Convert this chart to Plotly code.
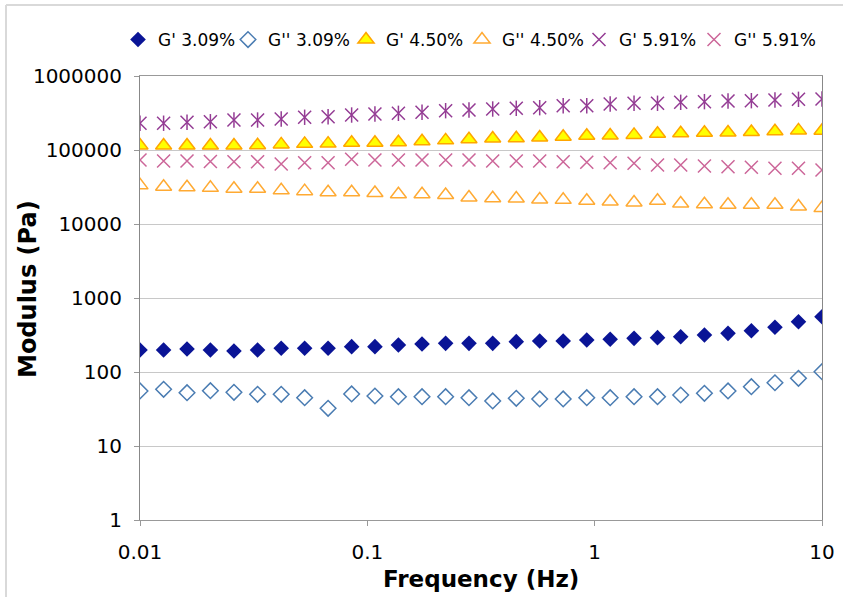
import numpy as np
import plotly.graph_objects as go

# Frequencies (Hz): 30 log-spaced points from 0.01 to 10
freq = [0.01, 0.0127, 0.0161, 0.0204, 0.0259, 0.0329, 0.0418, 0.053, 0.0672, 0.0853,
        0.108, 0.137, 0.174, 0.221, 0.28, 0.356, 0.452, 0.573, 0.727, 0.923,
        1.17, 1.49, 1.89, 2.39, 3.04, 3.86, 4.89, 6.21, 7.88, 10.0]

g1_309 = [198, 198, 205, 198, 192, 198, 209, 209, 209, 220,
          220, 232, 239, 244, 244, 244, 257, 262, 262, 271,
          277, 285, 291, 300, 316, 333, 361, 402, 478, 559]
g2_309 = [55.4, 58.3, 52.5, 55.9, 53.2, 50.0, 50.0, 45.0, 32.3, 50.5,
          47.4, 46.4, 46.4, 46.4, 45.0, 40.6, 44.1, 43.2, 43.2, 45.0,
          45.0, 46.4, 46.4, 48.9, 51.5, 55.4, 63.3, 71.6, 82.2, 101]
g1_450 = [115000, 115000, 115000, 115000, 115000, 116000, 119000, 121000, 122000, 125000,
          125000, 127000, 131500, 135000, 140000, 143000, 144000, 147500, 151000, 155500,
          157000, 160000, 165500, 168000, 171000, 172000, 175000, 179000, 184000, 182000]
g2_450 = [33300, 31900, 31400, 30800, 29900, 29900, 28500, 27800, 26900, 26900,
          26200, 25300, 25300, 24700, 22800, 22300, 22100, 21400, 21200, 20600,
          20100, 19500, 20600, 18900, 18500, 18200, 18200, 18200, 17200, 16400]
g1_591 = [230000, 230000, 237000, 241000, 254000, 254000, 262000, 277000, 282000, 297000,
          306000, 313000, 323000, 340000, 347000, 358000, 366000, 373000, 397000, 397000,
          419000, 428000, 428000, 441000, 450000, 459000, 464000, 474000, 484000, 489000]
g2_591 = [73300, 71000, 71000, 70000, 69500, 69500, 64700, 67400, 67400, 74800,
          73300, 73300, 73300, 73300, 73300, 71000, 71000, 71000, 69500, 68200,
          67400, 66100, 62700, 62700, 60800, 59500, 58300, 56600, 56600, 53700]

series_names = ["G' 3.09%", "G'' 3.09%", "G' 4.50%", "G'' 4.50%", "G' 5.91%", "G'' 5.91%"]

ytick_vals = [1, 10, 100, 1000, 10000, 100000, 1000000]
ytick_text = ["1", "10", "100", "1000", "10000", "100000", "1000000"]
xtick_vals = [0.01, 0.1, 1, 10]
xtick_text = ["0.01", "0.1", "1", "10"]
x_title = "Frequency (Hz)"
y_title = "Modulus (Pa)"

FONT = "DejaVu Sans"

L, R, T, B = 140, 21, 76, 77
W, H = 843, 597
pw, ph = W - L - R, H - T - B


def px(xp):
    return (xp - L) / pw


def py(yp):
    return (H - B - yp) / ph


legend_ids = ["legend", "legend2", "legend3", "legend4", "legend5", "legend6"]
legend_left_px = [118, 228, 346, 462, 579, 694]

fig = go.Figure()
fig.add_trace(go.Scatter(x=freq, y=g1_309, mode="markers", name=series_names[0],
                         legend=legend_ids[0],
                         marker=dict(symbol="diamond", size=12, color="#0a1496",
                                     line=dict(width=0))))
fig.add_trace(go.Scatter(x=freq, y=g2_309, mode="markers", name=series_names[1],
                         legend=legend_ids[1],
                         marker=dict(symbol="diamond-open", size=12, color="#4a7cb2",
                                     line=dict(width=1.5))))
fig.add_trace(go.Scatter(x=freq, y=g1_450, mode="markers", name=series_names[2],
                         legend=legend_ids[2],
                         marker=dict(symbol="triangle-up", size=14, color="#ffff00",
                                     line=dict(width=1.5, color="#ffa500"))))
fig.add_trace(go.Scatter(x=freq, y=g2_450, mode="markers", name=series_names[3],
                         legend=legend_ids[3],
                         marker=dict(symbol="triangle-up-open", size=14, color="#ffaa33",
                                     line=dict(width=1.5))))
fig.add_trace(go.Scatter(x=freq, y=g1_591, mode="markers", name=series_names[4],
                         legend=legend_ids[4],
                         marker=dict(symbol="x-thin-open", size=13, color="#943c94",
                                     line=dict(width=1.5, color="#943c94"))))
fig.add_trace(go.Scatter(x=freq, y=g1_591, mode="markers", name=series_names[4],
                         showlegend=False, hoverinfo="skip",
                         marker=dict(symbol="line-ns-open", size=11, color="#943c94",
                                     line=dict(width=1.5, color="#943c94"))))
fig.add_trace(go.Scatter(x=freq, y=g2_591, mode="markers", name=series_names[5],
                         legend=legend_ids[5],
                         marker=dict(symbol="x-thin-open", size=13, color="#cc6699",
                                     line=dict(width=1.5, color="#cc6699"))))

legend_layout = {}
for lid, lx in zip(legend_ids, legend_left_px):
    legend_layout[lid] = dict(orientation="h", x=px(lx), xanchor="left",
                              y=py(40), yanchor="middle",
                              font=dict(family=FONT, size=17, color="black"),
                              itemsizing="trace", bgcolor="rgba(0,0,0,0)")

fig.update_layout(
    width=W, height=H,
    margin=dict(l=L, r=R, t=T, b=B, autoexpand=False),
    paper_bgcolor="white", plot_bgcolor="white",
    font=dict(family=FONT, color="black"),
    showlegend=True,
    xaxis=dict(type="log", range=[-2, 1], tickvals=xtick_vals, ticktext=xtick_text,
               showgrid=False, showline=True, linecolor="#999999", linewidth=1,
               mirror=True, ticks="outside", ticklen=5, tickcolor="#999999",
               ticklabelstandoff=9,
               tickfont=dict(family=FONT, size=20, color="black"),
               zeroline=False),
    yaxis=dict(type="log", range=[0, 6], tickvals=ytick_vals, ticktext=ytick_text,
               showgrid=True, gridcolor="#c8c8c8", gridwidth=1,
               showline=True, linecolor="#888888", linewidth=1,
               mirror=True, ticks="outside", ticklen=5, tickcolor="#999999",
               ticklabelstandoff=8,
               tickfont=dict(family=FONT, size=20, color="black"),
               zeroline=False),
    **legend_layout,
)

fig.add_annotation(text="<b>" + x_title + "</b>", xref="paper", yref="paper",
                   x=px(481), y=py(579), xanchor="center", yanchor="middle",
                   showarrow=False, font=dict(family=FONT, size=23, color="black"))
fig.add_annotation(text="<b>" + y_title + "</b>", xref="paper", yref="paper",
                   x=px(28), y=py(289), xanchor="center", yanchor="middle",
                   textangle=-90, showarrow=False,
                   font=dict(family=FONT, size=24, color="black"))

# Outer chart-area frame (left and top edges visible)
fig.add_shape(type="line", xref="paper", yref="paper",
              x0=px(6), x1=px(6), y0=py(5), y1=py(600),
              line=dict(color="#d9d9d9", width=2))
fig.add_shape(type="line", xref="paper", yref="paper",
              x0=px(6), x1=px(900), y0=py(5), y1=py(5),
              line=dict(color="#d9d9d9", width=2))

fig.write_html("out.html")
